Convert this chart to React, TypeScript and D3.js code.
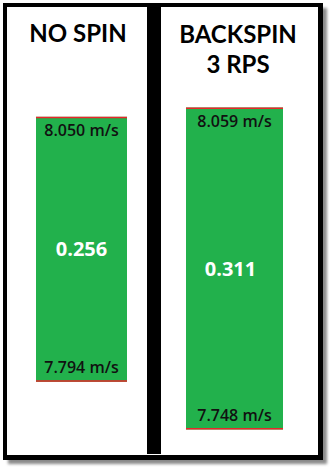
import React from "react";
import * as d3 from "d3";

const categories: string[][] = [["NO SPIN"], ["BACKSPIN", "3 RPS"]];
const maxSpeeds: number[] = [8.05, 8.059];
const minSpeeds: number[] = [7.794, 7.748];
const speedUnit = "m/s";

const W = 331;
const H = 469;

export default function App() {
  const y = d3.scaleLinear().domain([7.748, 8.059]).range([429.5, 107.5]);
  const panels = [
    { x0: 7, x1: 147, barX: 36, barW: 91, titleX: 78 },
    { x0: 161, x1: 318, barX: 186, barW: 97, titleX: 238 },
  ];
  const green = "#22b14c";
  const red = "#e8262a";
  const titleFont = "Lato, 'Open Sans', sans-serif";
  const labelFont = "'Open Sans', Lato, sans-serif";
  return (
    <svg
      width={W}
      height={H}
      style={{ position: "absolute", left: 0, top: 0, background: "#fff" }}
    >
      <defs>
        <filter id="blur" x="-10%" y="-10%" width="120%" height="120%">
          <feGaussianBlur stdDeviation="1.6" />
        </filter>
      </defs>
      {/* shadow */}
      <rect x={8} y={8} width={319} height={456} fill="#8a8a8a" filter="url(#blur)" />
      {/* frame */}
      <rect x={3} y={3} width={320} height={457} fill="#000" />
      <rect x={7} y={7} width={311} height={448} fill="#fff" />
      {/* divider */}
      <rect x={147} y={7} width={14} height={447} fill="#000" />
      {categories.map((lines, i) => {
        const p = panels[i];
        const top = y(maxSpeeds[i]);
        const bot = y(minSpeeds[i]);
        const cx = p.barX + p.barW / 2;
        const diff = (maxSpeeds[i] - minSpeeds[i]).toFixed(3);
        return (
          <g key={i}>
            {lines.map((ln, j) => (
              <text
                key={j}
                x={p.titleX}
                y={42 + j * 30 + (i === 1 ? 1 : 0)}
                textAnchor="middle"
                fontFamily={titleFont}
                fontWeight={700}
                fontSize={24}
                fill="#000"
              >
                {ln}
              </text>
            ))}
            <rect x={p.barX} y={top} width={p.barW} height={bot - top} fill={green} />
            <line x1={p.barX} x2={p.barX + p.barW} y1={top + 0.75} y2={top + 0.75} stroke={red} strokeWidth={1.5} />
            <line x1={p.barX} x2={p.barX + p.barW} y1={bot - 0.75} y2={bot - 0.75} stroke={red} strokeWidth={1.5} />
            <text
              x={cx}
              y={top + 19.5}
              textAnchor="middle"
              fontFamily={labelFont}
              fontWeight={600}
              fontSize={16}
              fill="#111"
            >
              {`${maxSpeeds[i].toFixed(3)} ${speedUnit}`}
            </text>
            <text
              x={cx}
              y={bot - 8.5}
              textAnchor="middle"
              fontFamily={labelFont}
              fontWeight={600}
              fontSize={16}
              fill="#111"
            >
              {`${minSpeeds[i].toFixed(3)} ${speedUnit}`}
            </text>
            <text
              x={cx - (i === 1 ? 4 : 0)}
              y={(top + bot) / 2 + 7}
              textAnchor="middle"
              fontFamily={labelFont}
              fontWeight={700}
              fontSize={20}
              fill="#fff"
            >
              {diff}
            </text>
          </g>
        );
      })}
    </svg>
  );
}
